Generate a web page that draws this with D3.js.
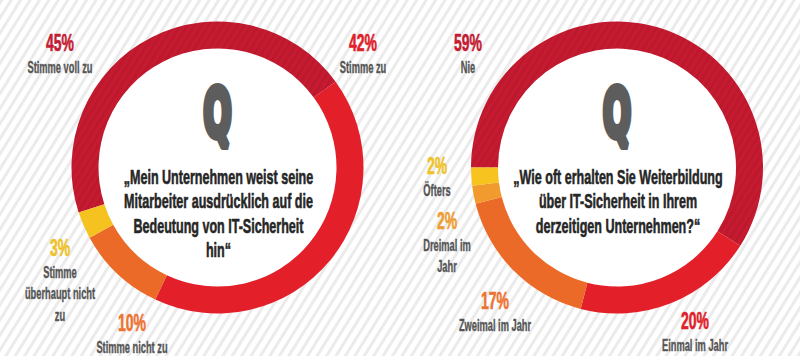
<!DOCTYPE html>
<html><head><meta charset="utf-8">
<script src="https://cdn.jsdelivr.net/npm/d3@7"></script>
<style>
html,body{margin:0;padding:0;background:#fff;}
svg{display:block;}
</style></head>
<body>
<svg id="chart" width="800" height="356"></svg>
<script>
// ---- data ----
const leftCategories = ["Stimme voll zu", "Stimme zu", "Stimme nicht zu", "Stimme überhaupt nicht zu"];
const leftValues = [45, 42, 10, 3];
const leftLabelLines = [["Stimme voll zu"], ["Stimme zu"], ["Stimme nicht zu"], ["Stimme", "überhaupt nicht", "zu"]];
const leftQuestion = ["„Mein Unternehmen weist seine", "Mitarbeiter ausdrücklich auf die", "Bedeutung von IT-Sicherheit", "hin“"];

const rightCategories = ["Nie", "Einmal im Jahr", "Zweimal im Jahr", "Dreimal im Jahr", "Öfters"];
const rightValues = [59, 20, 17, 2, 2];
const rightLabelLines = [["Nie"], ["Einmal im Jahr"], ["Zweimal im Jahr"], ["Dreimal im", "Jahr"], ["Öfters"]];
const rightQuestion = ["„Wie oft erhalten Sie Weiterbildung", "über IT-Sicherheit in Ihrem", "derzeitigen Unternehmen?“"];

// ---- styles / layout ----
const leftColors = ["#c61a30", "#e3202a", "#ec6a27", "#f5c21f"];
const leftTextColors = ["#c41c34", "#e0202a", "#ee7333", "#eec22a"];
const rightColors = ["#c61a30", "#e3202a", "#ec6a27", "#f19a2d", "#f7c31f"];
const rightTextColors = ["#c41c34", "#e0202a", "#ee7333", "#ef9d35", "#eec22a"];
const leftLabelPos = [[60, 43], [363, 43], [132, 323], [60, 248]];
const rightLabelPos = [[468, 43], [695, 321], [495, 301], [447, 221], [437, 166]];

const FONT = "'Liberation Sans Narrow','Liberation Sans','DejaVu Sans Condensed',Arial,sans-serif";
const svg = d3.select("#chart");
const defs = svg.append("defs");

// background stripes
const pat = defs.append("pattern").attr("id", "stripes").attr("patternUnits", "userSpaceOnUse")
  .attr("width", 8).attr("height", 8).attr("patternTransform", "rotate(32)");
pat.append("rect").attr("width", 8).attr("height", 8).attr("fill", "#ffffff");
pat.append("rect").attr("width", 3).attr("height", 8).attr("fill", "#ebebeb");
const pat2 = defs.append("pattern").attr("id", "dstripes").attr("patternUnits", "userSpaceOnUse")
  .attr("width", 6).attr("height", 6).attr("patternTransform", "rotate(32)");
pat2.append("rect").attr("width", 2.5).attr("height", 6).attr("fill", "rgba(0,0,0,0.06)");

svg.append("rect").attr("width", 800).attr("height", 356).attr("fill", "url(#stripes)");

// measuring helper for condensed look
function squash(sample, size, target) {
  const t = svg.append("text").attr("font-family", FONT).attr("font-weight", "bold")
    .attr("font-size", size).text(sample);
  const w = t.node().getComputedTextLength();
  t.remove();
  return target / w;
}
const kPct = squash("45%", 23, 28);
const kLab = squash("Stimme voll zu", 16, 65);
const kQ = squash("Mitarbeiter ausdrücklich auf die", 21, 189);

function sqText(g, x, y, str, size, k, color, sw) {
  g.append("text")
    .attr("transform", `translate(${x},${y}) scale(${k},1)`)
    .attr("text-anchor", "middle").attr("dominant-baseline", "central")
    .attr("font-family", FONT).attr("font-weight", "bold").attr("font-size", size)
    .attr("fill", color).attr("stroke", color).attr("stroke-width", sw)
    .attr("stroke-linejoin", "round").text(str);
}

function donut(cx, cy, values, colors, textColors, labelLines, labelPos, question, startDeg) {
  const R = 146, r = 119;
  const g = svg.append("g");
  const pie = d3.pie().sort(null).value(d => d)
    .startAngle(startDeg * Math.PI / 180).endAngle(startDeg * Math.PI / 180 + 2 * Math.PI);
  const arc = d3.arc().innerRadius(r).outerRadius(R);
  const arcs = pie(values);
  const ring = g.append("g").attr("transform", `translate(${cx},${cy})`);
  ring.append("circle").attr("r", r).attr("fill", "#fff");
  ring.selectAll("path.seg").data(arcs).join("path").attr("class", "seg")
    .attr("d", arc).attr("fill", (d, i) => colors[i]);
  ring.selectAll("path.tex").data(arcs.filter((d, i) => i === 0)).join("path")
    .attr("class", "tex").attr("d", arc).attr("fill", "url(#dstripes)");

  // Q
  ring.append("text").attr("x", 0).attr("y", 0)
    .attr("transform", `translate(0,-54) scale(0.5,1)`)
    .attr("text-anchor", "middle").attr("dominant-baseline", "central")
    .attr("font-family", "'DejaVu Sans',sans-serif").attr("font-weight", "bold")
    .attr("font-size", 66).attr("fill", "#5d5d5d").attr("stroke", "#5d5d5d").attr("stroke-width", 8)
    .attr("stroke-linejoin", "bevel").text("Q");

  // question
  question.forEach((line, i) => {
    sqText(g, cx + 1, cy + 9.5 + i * 24.2, line, 21, kQ, "#262626", 0.6);
  });

  // labels
  values.forEach((v, i) => {
    const [x, y] = labelPos[i];
    sqText(g, x, y, v + "%", 23, kPct, textColors[i], 0.6);
    labelLines[i].forEach((l, j) => {
      sqText(g, x, y + 24 + j * 21.5, l, 16, kLab, "#555555", 0.4);
    });
  });
}

donut(217.5, 167.5, leftValues, leftColors, leftTextColors, leftLabelLines, leftLabelPos, leftQuestion, -108);
donut(617, 167.5, rightValues, rightColors, rightTextColors, rightLabelLines, rightLabelPos, rightQuestion, -90);
</script>
</body></html>
